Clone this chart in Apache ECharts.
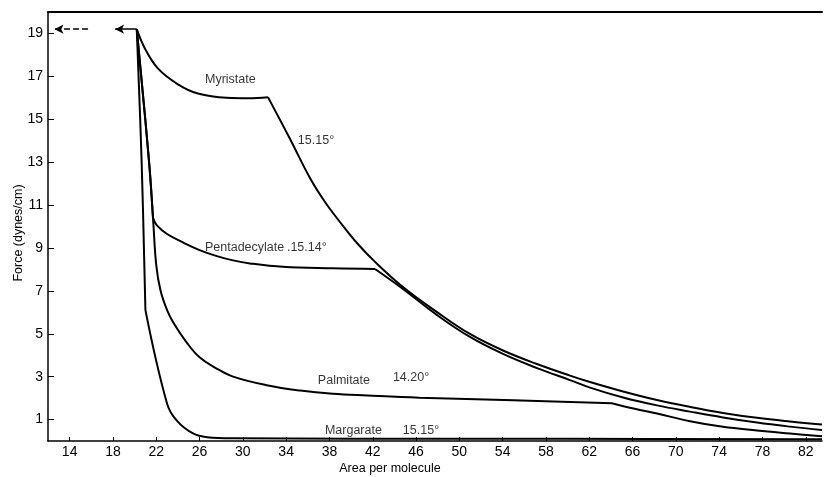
<!DOCTYPE html>
<html><head><meta charset="utf-8">
<script src="https://cdn.jsdelivr.net/npm/echarts@6/dist/echarts.min.js"></script>
<style>html,body{margin:0;padding:0;background:#fff}#c{width:824px;height:477px}</style>
</head><body><div id="c"></div>
<script>
const xTicks = [14,18,22,26,30,34,38,42,46,50,54,58,62,66,70,74,78,82];
const yTicks = [1,3,5,7,9,11,13,15,17,19];

const myristate = [[20.2,19.2],[20.95,18.3],[22.15,17.37],[24.0,16.63],[25.85,16.2],[28.5,16.0],[30.5,15.98],[32.32,16.03],
  [34.36,14.08],[36.2,12.26],[37.59,11.14],[38.97,10.21],[40.54,9.23],[42.21,8.35],[44.79,7.18],[47.94,6.01],[50.98,4.99],
  [54.03,4.22],[57.17,3.59],[60.22,3.05],[62.07,2.75],[65.12,2.31],[68.26,1.91],[71.31,1.59],[74.35,1.31],[77.5,1.08],[80.54,0.91],[83.5,0.77]];
const pentadecylate = [[20.2,19.2],[21.33,13.05],[21.7,10.4],[22.06,10.05],[23.0,9.65],[24.5,9.25],[26.0,8.9],[27.6,8.62],[29.1,8.42],
  [30.65,8.28],[33.7,8.12],[38.3,8.05],[42.21,8.02],[44.79,7.09],[47.94,5.87],[50.98,4.85],[54.03,4.06],[57.17,3.4],[60.22,2.84],
  [62.07,2.49],[65.12,2.03],[68.26,1.66],[71.31,1.37],[74.35,1.1],[77.5,0.86],[80.54,0.67],[83.5,0.51]];
const palmitate = [[20.2,19.2],[21.33,13.05],[21.7,10.4],[22.0,8.2],[22.4,7.0],[23.0,6.1],[23.6,5.5],[24.8,4.6],[26.0,3.9],
  [27.5,3.4],[29.1,3.0],[32.2,2.6],[35.3,2.35],[38.3,2.2],[41.5,2.12],[46.3,2.02],[55,1.9],[64.1,1.76],[66.2,1.5],[68.26,1.28],
  [71.31,0.92],[74.35,0.66],[77.5,0.49],[80.54,0.35],[83.5,0.22]];
const margarate = [[20.2,19.2],[20.65,13.0],[21.0,6.1],[23.0,1.74],[23.9,0.95],[25.4,0.35],[26.7,0.18],[29.3,0.13],
  [40,0.11],[60,0.1],[83.5,0.08]];

// x positions where a curve has a sharp corner
const myristateCorners = [32.32];
const pentadecylateCorners = [21.7, 42.21];
const palmitateCorners = [64.1];
const margarateCorners = [21.0];

const arrowSolid = [[20.2,19.2],[18.2,19.2]];
const arrowDashed = [[15.7,19.2],[12.6,19.2]];

const annotations = [
  [26.5,16.83,'Myristate'], [35.08,14.03,'15.15°'],
  [26.5,9.0,'Pentadecylate'], [34.07,9.04,'.15.14°'],
  [36.93,2.8,'Palmitate'], [43.86,2.94,'14.20°'],
  [37.58,0.51,'Margarate'], [44.78,0.51,'15.15°']
];

const FONT = 'Liberation Sans';
const chart = echarts.init(document.getElementById('c'));

function split(data, corners) {
  const out = []; let cur = [];
  data.forEach(p => {
    cur.push(p);
    if (corners.includes(p[0])) { out.push(cur); cur = [p]; }
  });
  if (cur.length > 1) out.push(cur);
  return out;
}
const curve = (name, data, corners) => split(data, corners).map(seg => ({
  name, type: 'line', data: seg, smooth: 0.4, symbol: 'none', silent: true,
  lineStyle: { color: '#000', width: 2 }, z: 3
}));
const arrow = (pts, type) => ({
  type: 'line', data: [], silent: true,
  markLine: {
    silent: true, animation: false, symbol: ['none', 'arrow'], symbolSize: [7, 9],
    label: { show: false }, emphasis: { disabled: true },
    lineStyle: { color: '#000', width: 1.5, type: type },
    data: [[{ coord: pts[0] }, { coord: pts[1] }]]
  }
});

chart.setOption({
  animation: false,
  backgroundColor: '#fff',
  grid: { left: 48, right: 2, top: 12, bottom: 36 },
  xAxis: [{
    type: 'value', min: 12, max: 83.5,
    axisLine: { onZero: false, lineStyle: { color: '#000', width: 1.5 } },
    axisTick: { inside: true, length: 4, customValues: xTicks, lineStyle: { color: '#000' } },
    axisLabel: { customValues: xTicks, color: '#000', fontSize: 14, margin: 4, fontFamily: FONT },
    splitLine: { show: false }
  }, {
    type: 'value', position: 'top', min: 12, max: 83.5,
    axisLine: { show: true, onZero: false, lineStyle: { color: '#000', width: 2 } },
    axisTick: { show: false }, axisLabel: { show: false }, splitLine: { show: false }
  }],
  yAxis: {
    type: 'value', min: 0, max: 20,
    axisLine: { show: true, onZero: false, lineStyle: { color: '#000', width: 1.5 } },
    axisTick: { show: true, inside: true, length: 6, customValues: yTicks, lineStyle: { color: '#000' } },
    axisLabel: { customValues: yTicks, color: '#000', fontSize: 14, margin: 5, fontFamily: FONT },
    splitLine: { show: false }
  },
  graphic: [
    { type: 'text', x: 390, y: 469, style: { text: 'Area per molecule', fill: '#000', font: '12.5px Liberation Sans', align: 'center', verticalAlign: 'middle' } },
    { type: 'text', x: 19, y: 233, rotation: Math.PI / 2, style: { text: 'Force (dynes/cm)', fill: '#000', font: '12.5px Liberation Sans', align: 'center', verticalAlign: 'middle' } }
  ],
  series: [
    ...curve('Myristate', myristate, myristateCorners),
    ...curve('Pentadecylate', pentadecylate, pentadecylateCorners),
    ...curve('Palmitate', palmitate, palmitateCorners),
    ...curve('Margarate', margarate, margarateCorners),
    arrow(arrowSolid, 'solid'),
    arrow(arrowDashed, 'dashed'),
    {
      type: 'scatter', silent: true, symbolSize: 0,
      data: annotations.map(a => ({ value: [a[0], a[1]], name: a[2] })),
      label: { show: true, position: 'right', distance: 0, formatter: '{b}', color: '#000', fontSize: 12.5, fontFamily: FONT }
    }
  ]
});
</script></body></html>
